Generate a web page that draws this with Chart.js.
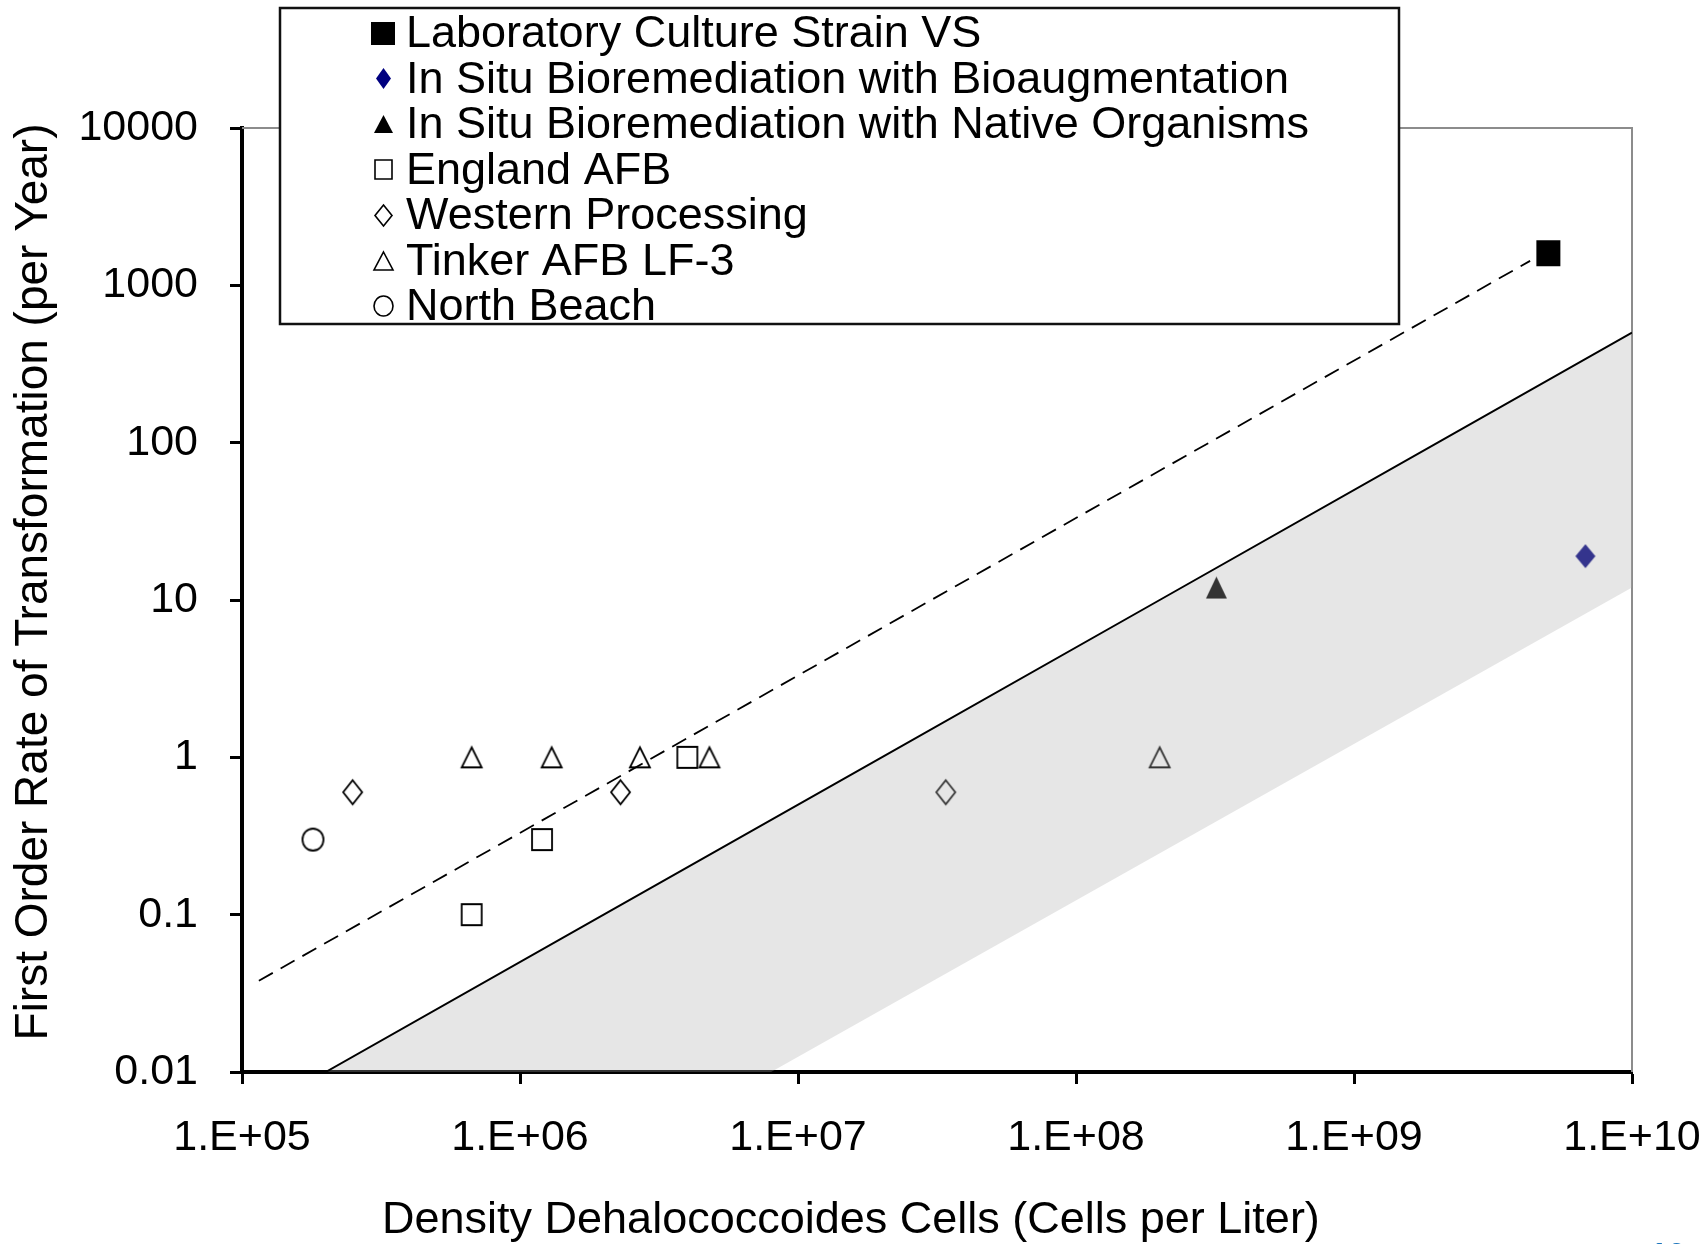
<!DOCTYPE html>
<html>
<head>
<meta charset="utf-8">
<script src="https://cdn.jsdelivr.net/npm/chart.js@4.4.1/dist/chart.umd.min.js"></script>
<style>
  html, body { margin: 0; padding: 0; background: #fff; }
  #wrap { width: 1708px; height: 1244px; }
</style>
</head>
<body>
<div id="wrap"><canvas id="rateChart" width="1708" height="1244"></canvas></div>
<script>
// Dehalococcoides density (cells/L) vs first order transformation rate (per year)
const seriesLabels = [
  'Laboratory Culture Strain VS',
  'In Situ Bioremediation with Bioaugmentation',
  'In Situ Bioremediation with Native Organisms',
  'England AFB',
  'Western Processing',
  'Tinker AFB LF-3',
  'North Beach'
];

const labCultureX = [5.0e9];
const labCultureY = [1600];
const bioaugX = [6.8e9];
const bioaugY = [19];
const nativeX = [3.2e8];
const nativeY = [12];
const englandX = [6.7e5, 1.2e6, 4.0e6];
const englandY = [0.1, 0.3, 1];
const westernX = [2.5e5, 2.3e6, 3.4e7];
const westernY = [0.6, 0.6, 0.6];
const tinkerX = [6.7e5, 1.3e6, 2.7e6, 4.8e6, 2.0e8];
const tinkerY = [1, 1, 1, 1, 1];
const northBeachX = [1.8e5];
const northBeachY = [0.3];

// trend line through the lab culture, and the band for field sites
const upperLineX = [1.15e5, 4.3e9];
const upperLineY = [0.038, 1430];
const bandTopX = [2e5, 2e6, 2e7, 2e8, 2e9, 1e10];
const bandTopY = [0.01, 0.1, 1, 10, 100, 500];
const bandBottomX = [2e5, 8e6, 1e10];
const bandBottomY = [0.01, 0.01, 12];

const xTicks = [1e5, 1e6, 1e7, 1e8, 1e9, 1e10];
const xTickLabels = ['1.E+05', '1.E+06', '1.E+07', '1.E+08', '1.E+09', '1.E+10'];
const yTicks = [0.01, 0.1, 1, 10, 100, 1000, 10000];
const yTickLabels = ['0.01', '0.1', '1', '10', '100', '1000', '10000'];

const FONT = '"Liberation Sans", Arial, sans-serif';
Chart.defaults.font.family = FONT;
Chart.defaults.color = '#000';

const pts = (xs, ys) => xs.map((x, i) => ({ x: x, y: ys[i] }));

// marker bitmaps (excel style, slightly taller than wide)
function marker(shape, w, h, fill, stroke, lw) {
  const pad = Math.ceil(lw || 0) + 1;
  const c = document.createElement('canvas');
  c.width = w + pad * 2;
  c.height = h + pad * 2;
  const g = c.getContext('2d');
  g.translate(pad, pad);
  g.beginPath();
  if (shape === 'square') {
    g.rect(0, 0, w, h);
  } else if (shape === 'diamond') {
    g.moveTo(w / 2, 0); g.lineTo(w, h / 2); g.lineTo(w / 2, h); g.lineTo(0, h / 2); g.closePath();
  } else if (shape === 'triangle') {
    g.moveTo(w / 2, 0); g.lineTo(w, h); g.lineTo(0, h); g.closePath();
  } else {
    g.ellipse(w / 2, h / 2, w / 2, h / 2, 0, 0, Math.PI * 2);
  }
  if (fill) { g.fillStyle = fill; g.fill(); }
  if (stroke) { g.lineWidth = lw; g.strokeStyle = stroke; g.stroke(); }
  return c;
}

const plotMarks = [
  marker('square', 24, 26, '#000'),
  marker('diamond', 20, 24, '#000080'),
  marker('triangle', 21, 22, '#000'),
  marker('square', 20, 21, null, '#000', 1.8),
  marker('diamond', 19, 24, null, '#000', 1.8),
  marker('triangle', 20, 20, null, '#000', 1.8),
  marker('circle', 21, 22, null, '#000', 1.8)
];
const legendMarks = [
  marker('square', 24, 23, '#000'),
  marker('diamond', 15, 21, '#000080'),
  marker('triangle', 19, 18, '#000'),
  marker('square', 17, 19, null, '#000', 1.6),
  marker('diamond', 17, 21, null, '#000', 1.6),
  marker('triangle', 19, 18, null, '#000', 1.6),
  marker('circle', 19, 20, null, '#000', 1.6)
];

const scatterSet = (i, xs, ys) => ({
  type: 'scatter',
  label: seriesLabels[i],
  data: pts(xs, ys),
  pointStyle: plotMarks[i],
  pointRadius: 10,
  showLine: false
});

// top/right frame in grey
const framePlugin = {
  id: 'frame',
  beforeDatasetsDraw(chart) {
    const a = chart.chartArea, ctx = chart.ctx;
    ctx.save();
    ctx.strokeStyle = '#8c8c8c';
    ctx.lineWidth = 2;
    ctx.beginPath();
    ctx.moveTo(a.left, a.top);
    ctx.lineTo(a.right, a.top);
    ctx.lineTo(a.right, a.bottom);
    ctx.stroke();
    ctx.restore();
  }
};

// axis titles + legend box on top of the plot
const overlayPlugin = {
  id: 'overlay',
  afterDraw(chart) {
    const ctx = chart.ctx;
    ctx.save();
    ctx.fillStyle = '#000';
    ctx.font = '45px ' + FONT;
    ctx.textBaseline = 'alphabetic';
    ctx.textAlign = 'left';
    ctx.fillText('Density Dehalococcoides Cells (Cells per Liter)', 382, 1233);

    ctx.save();
    ctx.translate(47, 582);
    ctx.rotate(-Math.PI / 2);
    ctx.textAlign = 'center';
    ctx.font = '46px ' + FONT;
    ctx.fillText('First Order Rate of Transformation (per Year)', 0, 0);
    ctx.restore();

    // legend
    ctx.fillStyle = '#fff';
    ctx.fillRect(280, 8, 1119, 316);
    ctx.strokeStyle = '#111';
    ctx.lineWidth = 2.5;
    ctx.strokeRect(280, 8, 1119, 316);
    ctx.font = '45px ' + FONT;
    ctx.textBaseline = 'middle';
    ctx.fillStyle = '#000';
    seriesLabels.forEach((lbl, i) => {
      const y = 35 + i * 45.5;
      const m = legendMarks[i];
      ctx.drawImage(m, Math.round(383 - m.width / 2), Math.round(y - 2 - m.height / 2));
      ctx.fillText(lbl, 406, y);
    });

    // slide number, cut by the page edge
    ctx.fillStyle = '#1c75bc';
    ctx.font = 'bold 32px ' + FONT;
    ctx.textBaseline = 'top';
    ctx.fillText('10', 1650, 1240);
    ctx.restore();
  }
};

new Chart(document.getElementById('rateChart'), {
  type: 'scatter',
  data: {
    datasets: [
      // band drawn last so its translucent shade lies over the markers
      { type: 'line', label: 'band', data: pts(bandTopX, bandTopY), borderColor: '#000', borderWidth: 2,
        pointRadius: 0, fill: '+1', backgroundColor: 'rgba(171,171,171,0.3)', tension: 0 },
      { type: 'line', label: 'bandLow', data: pts(bandBottomX, bandBottomY), borderColor: 'transparent',
        borderWidth: 0, pointRadius: 0, fill: false, tension: 0 },
      { type: 'line', label: 'trend', data: pts(upperLineX, upperLineY), borderColor: '#000', borderWidth: 1.8,
        borderDash: [16, 9], pointRadius: 0, fill: false, tension: 0 },
      scatterSet(0, labCultureX, labCultureY),
      scatterSet(1, bioaugX, bioaugY),
      scatterSet(2, nativeX, nativeY),
      scatterSet(3, englandX, englandY),
      scatterSet(4, westernX, westernY),
      scatterSet(5, tinkerX, tinkerY),
      scatterSet(6, northBeachX, northBeachY)
    ]
  },
  options: {
    responsive: false,
    animation: false,
    layout: { padding: { top: 128, right: 76, left: 0, bottom: 0 } },
    plugins: { legend: { display: false }, tooltip: { enabled: false }, filler: { drawTime: 'beforeDatasetDraw' } },
    scales: {
      x: {
        type: 'logarithmic',
        min: 1e5, max: 1e10,
        afterBuildTicks: (s) => { s.ticks = xTicks.map(v => ({ value: v })); },
        afterFit: (s) => { s.height = 172; s.paddingLeft = 0; s.paddingRight = 0; },
        ticks: {
          autoSkip: false, maxRotation: 0, padding: 28,
          font: { size: 43 }, color: '#000',
          callback: (v, i) => xTickLabels[i]
        },
        grid: { drawOnChartArea: false, drawTicks: true, tickLength: 12, tickWidth: 3, tickColor: '#000' },
        border: { display: true, color: '#000', width: 4 }
      },
      y: {
        type: 'logarithmic',
        min: 0.01, max: 10000,
        afterBuildTicks: (s) => { s.ticks = yTicks.map(v => ({ value: v })); },
        afterFit: (s) => { s.width = 242; s.paddingTop = 0; s.paddingBottom = 0; },
        ticks: {
          autoSkip: false, padding: 32,
          font: { size: 43 }, color: '#000',
          callback: (v, i) => yTickLabels[i]
        },
        grid: { drawOnChartArea: false, drawTicks: true, tickLength: 12, tickWidth: 3, tickColor: '#000' },
        border: { display: true, color: '#000', width: 4 }
      }
    }
  },
  plugins: [framePlugin, overlayPlugin]
});
</script>
</body>
</html>
